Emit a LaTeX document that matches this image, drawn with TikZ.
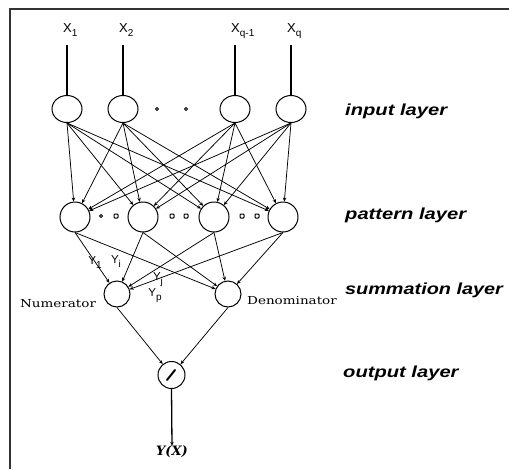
\documentclass[tikz,border=0pt]{standalone}
\usepackage{fontspec}
\usepackage{graphicx}
\usetikzlibrary{shapes.geometric,arrows.meta}
\newfontfamily\lsans{Liberation Sans}
\newfontfamily\dser{DejaVu Serif}
\newcommand{\sublab}[2]{#1\raisebox{-4pt}{\fontsize{10}{10}\selectfont #2}}
\begin{document}
\begin{tikzpicture}[x=1pt,y=-1pt,
  inode/.style={ellipse, draw, line width=1pt, minimum width=30pt, minimum height=27pt, inner sep=0pt},
  pnode/.style={circle, draw, line width=1pt, minimum size=30pt, inner sep=0pt},
  snode/.style={circle, draw, line width=1pt, minimum size=26pt, inner sep=0pt},
  onode/.style={circle, draw, line width=1pt, minimum size=27pt, inner sep=0pt},
  conn/.style={line width=0.75pt, -{Stealth[length=4pt,width=3.5pt]}},
  feed/.style={line width=1.3pt},
  layerlab/.style={anchor=west, inner sep=0pt, font=\lsans\bfseries\itshape\fontsize{16}{18}\selectfont},
  xlab/.style={anchor=base west, inner sep=0pt, font=\lsans\fontsize{13}{13}\selectfont},
  ylab/.style={inner sep=0pt, font=\lsans\fontsize{11.5}{11.5}\selectfont},
  sqdot/.style={draw, line width=1pt, rounded corners=0.8pt, minimum size=4pt, inner sep=0pt},
  rddot/.style={circle, draw, line width=1pt, minimum size=3pt, inner sep=0pt},
  sidelab/.style={inner sep=0pt, font=\dser\fontsize{11}{11}\selectfont}]
\useasboundingbox (0,0) rectangle (509,469);
% frame
\draw[line width=1.5pt, black!80] (10,469) -- (10,9) -- (509,9);
% input labels
\node[xlab] (x1) at (63,32) {\sublab{X}{1}};
\node[xlab] (x2) at (119,32) {\sublab{X}{2}};
\node[xlab] (x3) at (231,32) {\sublab{X}{q-1}};
\node[xlab] (x4) at (287,32) {\sublab{X}{q}};
\coordinate (c1) at (67,45);
\coordinate (c2) at (123,45);
\coordinate (c3) at (235,45);
\coordinate (c4) at (291,45);
% input layer
\node[inode] (i1) at (67,109) {};
\node[inode] (i2) at (123,109) {};
\node[inode] (i3) at (235,109) {};
\node[inode] (i4) at (291,109) {};
\node[rddot] (d1) at (157,109) {};
\node[rddot] (d2) at (186,109) {};
% pattern layer
\node[pnode] (p1) at (75,217) {};
\node[pnode] (p2) at (143,217) {};
\node[pnode] (p3) at (214,217) {};
\node[pnode] (p4) at (283,217) {};
\node[rddot] (e1) at (101,216) {};
\node[sqdot] (e2) at (116,216) {};
\node[sqdot] (e3) at (172,216) {};
\node[sqdot] (e4) at (186,216) {};
\node[sqdot] (e5) at (242,216) {};
\node[sqdot] (e6) at (257,216) {};
% summation layer
\node[snode] (num) at (117,294) {};
\node[snode] (den) at (228,294) {};
\node[sidelab] (numlab) at (58,304) {\scalebox{1.23}[1]{Numerator}};
\node[sidelab] (denlab) at (292,301) {\scalebox{1.23}[1]{Denominator}};
% output layer
\node[onode] (out) at (171.5,375) {};
\draw[line width=2pt, line cap=round] (167,380) -- (175,370);
\node[inner sep=0pt, font=\dser\bfseries\itshape\fontsize{13}{13}\selectfont] (yx) at (172,452) {Y(X)};
% Y labels
\node[ylab] (y1) at (95,263) {\sublab{Y}{1}};
\node[ylab] (yi) at (116,262) {\sublab{Y}{i}};
\node[ylab] (yj) at (158,280) {\sublab{Y}{j}};
\node[ylab] (yp) at (155,296) {\sublab{Y}{p}};
% layer labels
\node[layerlab] (l1) at (345,111) {\scalebox{1.26}[1]{input layer}};
\node[layerlab] (l2) at (345,215) {\scalebox{1.26}[1]{pattern layer}};
\node[layerlab] (l3) at (345,290) {\scalebox{1.24}[1]{summation layer}};
\node[layerlab] (l4) at (343,373) {\scalebox{1.26}[1]{output layer}};
% connectors
\foreach \k in {1,...,4} {\draw[feed] (c\k) -- (i\k.north);}
\foreach \a in {1,...,4} {\foreach \b in {1,...,4} {\draw[conn] (i\a.south) -- (p\b);}}
\foreach \a in {1,...,4} {\draw[conn] (p\a.south) -- (num); \draw[conn] (p\a.south) -- (den);}
\draw[conn] (num.south) -- (out);
\draw[conn] (den.south) -- (out);
\draw[conn, line width=1.3pt] (out.south) -- (yx.north);
\end{tikzpicture}
\end{document}
